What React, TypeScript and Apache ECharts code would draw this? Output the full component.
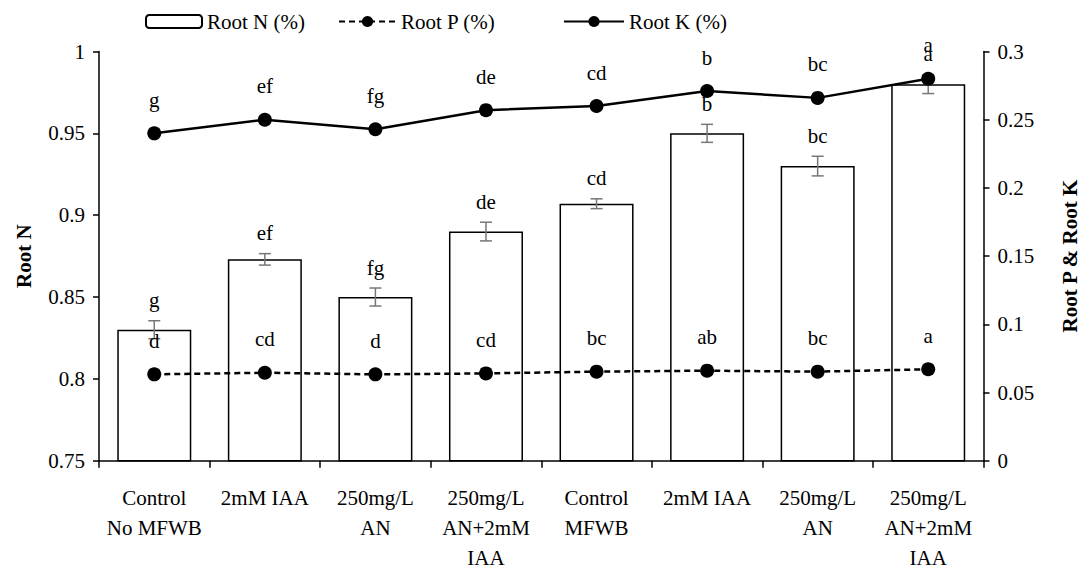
import React, { useEffect, useRef } from "react";
import * as echarts from "echarts";

const categories = [
  "Control\nNo MFWB",
  "2mM IAA",
  "250mg/L\nAN",
  "250mg/L\nAN+2mM\nIAA",
  "Control\nMFWB",
  "2mM IAA",
  "250mg/L\nAN",
  "250mg/L\nAN+2mM\nIAA",
];
const rootN = [0.83, 0.873, 0.85, 0.89, 0.907, 0.95, 0.93, 0.98];
const rootNErr = [0.0055, 0.0035, 0.0055, 0.0057, 0.003, 0.0055, 0.006, 0.0057];
const rootNLetters = ["g", "ef", "fg", "de", "cd", "b", "bc", "a"];
const rootP = [0.0633, 0.0645, 0.0633, 0.064, 0.0653, 0.066, 0.0653, 0.067];
const rootPLetters = ["d", "cd", "d", "cd", "bc", "ab", "bc", "a"];
const rootK = [0.24, 0.25, 0.243, 0.257, 0.26, 0.271, 0.266, 0.28];
const rootKLetters = ["g", "ef", "fg", "de", "cd", "b", "bc", "a"];

const FONT = "Liberation Serif";

export default function App() {
  const ref = useRef<HTMLDivElement>(null);
  useEffect(() => {
    document.body.style.margin = "0";
    const chart = echarts.init(ref.current!, null, { renderer: "svg" });
    const errData = rootN.map((v, i) => [i, v, rootNErr[i]]);
    const legendText = { fontFamily: FONT, fontSize: 21, color: "#000" };
    chart.setOption({
      animation: false,
      backgroundColor: "#fff",
      textStyle: { fontFamily: FONT, color: "#000" },
      legend: [
        {
          data: ["Root N (%)"],
          left: 140,
          top: 6,
          itemWidth: 56,
          itemHeight: 13,
          itemGap: 4,
          textStyle: legendText,
        },
        {
          data: ["Root P (%)"],
          left: 333,
          top: 6,
          itemWidth: 57,
          itemHeight: 14,
          textStyle: legendText,
        },
        {
          data: ["Root K (%)"],
          left: 558,
          top: 6,
          itemWidth: 60,
          itemHeight: 14,
          textStyle: legendText,
        },
      ],
      grid: { left: 99, right: 107.5, top: 51.5, bottom: 115.3 },
      xAxis: {
        type: "category",
        data: categories,
        boundaryGap: true,
        axisLine: { lineStyle: { color: "#000", width: 1.5 } },
        axisTick: { show: true, length: 7, lineStyle: { color: "#000", width: 1.5 } },
        axisLabel: {
          interval: 0,
          fontFamily: FONT,
          fontSize: 21,
          color: "#000",
          lineHeight: 30,
          margin: 22,
        },
      },
      yAxis: [
        {
          type: "value",
          min: 0.75,
          max: 1,
          interval: 0.05,
          name: "Root N",
          nameLocation: "middle",
          nameGap: 65,
          nameTextStyle: { fontFamily: FONT, fontSize: 21, fontWeight: "bold", color: "#000" },
          axisLine: { show: true, lineStyle: { color: "#000", width: 1.5 } },
          axisTick: { show: true, length: 6, lineStyle: { color: "#000", width: 1.5 } },
          axisLabel: { fontFamily: FONT, fontSize: 21, color: "#000", margin: 14 },
          splitLine: { show: false },
        },
        {
          type: "value",
          min: 0,
          max: 0.3,
          interval: 0.05,
          name: "Root P & Root K",
          nameLocation: "middle",
          nameGap: 76,
          nameRotate: 90,
          nameTextStyle: { fontFamily: FONT, fontSize: 21, fontWeight: "bold", color: "#000" },
          axisLine: { show: true, lineStyle: { color: "#000", width: 1.5 } },
          axisTick: { show: true, length: 6, lineStyle: { color: "#000", width: 1.5 } },
          axisLabel: { fontFamily: FONT, fontSize: 21, color: "#000", margin: 14 },
          splitLine: { show: false },
        },
      ],
      series: [
        {
          name: "Root N (%)",
          type: "bar",
          yAxisIndex: 0,
          data: rootN,
          barWidth: 74,
          itemStyle: { color: "#fff", borderColor: "#000", borderWidth: 1.5 },
          z: 1,
        },
        {
          name: "errN",
          type: "custom",
          yAxisIndex: 0,
          data: errData,
          z: 3,
          renderItem: (params: any, api: any) => {
            const i = api.value(0);
            const v = api.value(1);
            const e = api.value(2);
            const top = api.coord([i, v + e]);
            const bot = api.coord([i, v - e]);
            const x = top[0];
            const cap = 6;
            const st = { stroke: "#777", lineWidth: 1.5 };
            return {
              type: "group",
              children: [
                { type: "line", shape: { x1: x, y1: top[1], x2: x, y2: bot[1] }, style: st },
                { type: "line", shape: { x1: x - cap, y1: top[1], x2: x + cap, y2: top[1] }, style: st },
                { type: "line", shape: { x1: x - cap, y1: bot[1], x2: x + cap, y2: bot[1] }, style: st },
                {
                  type: "text",
                  x: x,
                  y: top[1] - 10,
                  style: {
                    text: rootNLetters[params.dataIndex],
                    fontFamily: FONT,
                    fontSize: 21,
                    fill: "#000",
                    align: "center",
                    verticalAlign: "bottom",
                  },
                },
              ],
            };
          },
        },
        {
          name: "Root P (%)",
          type: "line",
          yAxisIndex: 1,
          data: rootP,
          symbol: "circle",
          symbolSize: 14,
          itemStyle: { color: "#000" },
          lineStyle: { color: "#000", width: 2.5, type: [6, 4] },
          z: 5,
          label: {
            show: true,
            position: "top",
            distance: 16,
            fontFamily: FONT,
            fontSize: 21,
            color: "#000",
            formatter: (p: any) => rootPLetters[p.dataIndex],
          },
        },
        {
          name: "Root K (%)",
          type: "line",
          yAxisIndex: 1,
          data: rootK,
          symbol: "circle",
          symbolSize: 14,
          itemStyle: { color: "#000" },
          lineStyle: { color: "#000", width: 2.5 },
          z: 5,
          label: {
            show: true,
            position: "top",
            distance: 16,
            fontFamily: FONT,
            fontSize: 21,
            color: "#000",
            formatter: (p: any) => rootKLetters[p.dataIndex],
          },
        },
      ],
    });
    return () => chart.dispose();
  }, []);
  return <div ref={ref} style={{ width: 1091, height: 576 }} />;
}
